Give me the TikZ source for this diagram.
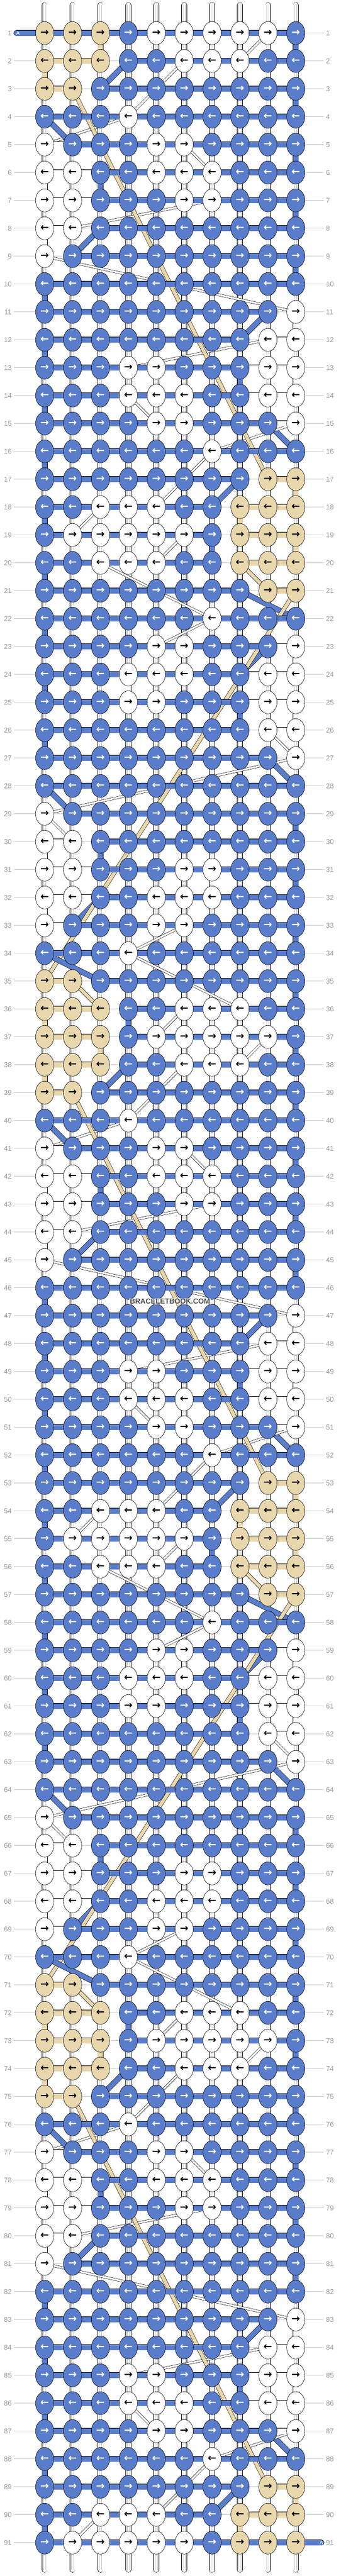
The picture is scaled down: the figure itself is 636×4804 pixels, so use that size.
\documentclass[tikz,border=0pt]{standalone}
\usepackage{fontspec}
\setmainfont{Liberation Sans}
\newfontfamily\arrowfont{DejaVu Sans}
\usepackage{xstring}
\usetikzlibrary{shapes.geometric}

\definecolor{knotblue}{HTML}{5A7DCB}
\definecolor{knottan}{HTML}{E8D6AC}
\definecolor{numgray}{HTML}{999999}
\definecolor{linegray}{HTML}{C8C8C8}
\definecolor{markgray}{HTML}{4A4A4A}

\pgfdeclarelayer{guide}
\pgfdeclarelayer{strings}
\pgfdeclarelayer{diag}
\pgfdeclarelayer{barW}
\pgfdeclarelayer{barT}
\pgfdeclarelayer{barB}
\pgfsetlayers{guide,strings,diag,barW,barT,barB,main}

\tikzstyle{knot}=[ellipse, draw=black, line width=0.6pt, minimum width=34pt, minimum height=43pt, inner sep=0pt, font=\arrowfont\bfseries\fontsize{19}{19}\selectfont]
\tikzstyle{thread}=[draw=black, line width=0.6pt]
\tikzstyle{basestring}=[draw=black, line width=0.6pt, double=white, double distance=9pt, line cap=round]
\tikzstyle{stringcore}=[draw=linegray, line width=0.6pt, double=white, double distance=3.4pt]
\tikzstyle{rowline}=[draw=linegray, line width=0.8pt]
\tikzstyle{rownum}=[text=numgray, font=\fontsize{13}{13}\selectfont, inner sep=4pt]

% knot letters: B blue (thread A), W white, T tan
\def\fillB{knotblue}\def\fillW{white}\def\fillT{knottan}
\def\textB{white}\def\textW{black}\def\textT{black}
\def\diagB{9}\def\diagW{3.5}\def\diagT{6.5}

\def\patlist{1/TTTBWWWWWB,2/TTTBBWWWBB,3/TTBBBBBBBB,4/BBBWBBBBBB,5/WBBBWWBBBB,6/WWBBWWWBBB,7/WWBBBWWBBB,8/WWBBBBBBBB,9/WBBBBBBBBB,10/BBBBBBBBBB,11/BBBBBBBBBW,12/BBBBBBBBWW,13/BBBWWBBBWW,14/BBBWWWBBWW,15/BBBBWWBBBW,16/BBBBBBWBBB,17/BBBBBBBBTT,18/BBWWWBBTTT,19/BWWWWWBTTT,20/BBWWWBBTTT,21/BBBBBBBBTT,22/BBBBBBWBBB,23/BBBBWWBBBW,24/BBBWWWBBWW,25/BBBWWBBBWW,26/BBBBBBBBWW,27/BBBBBBBBBW,28/BBBBBBBBBB,29/WBBBBBBBBB,30/WWBBBBBBBB,31/WWBBBWWBBB,32/WWBBWWWBBB,33/WBBBWWBBBB,34/BBBWBBBBBB,35/TTBBBBBBBB,36/TTTBBWWWBB,37/TTTBWWWWWB,38/TTTBBWWWBB,39/TTBBBBBBBB,40/BBBWBBBBBB,41/WBBBWWBBBB,42/WWBBWWWBBB,43/WWBBBWWBBB,44/WWBBBBBBBB,45/WBBBBBBBBB,46/BBBBBBBBBB,47/BBBBBBBBBW,48/BBBBBBBBWW,49/BBBWWBBBWW,50/BBBWWWBBWW,51/BBBBWWBBBW,52/BBBBBBWBBB,53/BBBBBBBBTT,54/BBWWWBBTTT,55/BWWWWWBTTT,56/BBWWWBBTTT,57/BBBBBBBBTT,58/BBBBBBWBBB,59/BBBBWWBBBW,60/BBBWWWBBWW,61/BBBWWBBBWW,62/BBBBBBBBWW,63/BBBBBBBBBW,64/BBBBBBBBBB,65/WBBBBBBBBB,66/WWBBBBBBBB,67/WWBBBWWBBB,68/WWBBWWWBBB,69/WBBBWWBBBB,70/BBBWBBBBBB,71/TTBBBBBBBB,72/TTTBBWWWBB,73/TTTBWWWWWB,74/TTTBBWWWBB,75/TTBBBBBBBB,76/BBBWBBBBBB,77/WBBBWWBBBB,78/WWBBWWWBBB,79/WWBBBWWBBB,80/WWBBBBBBBB,81/WBBBBBBBBB,82/BBBBBBBBBB,83/BBBBBBBBBW,84/BBBBBBBBWW,85/BBBWWBBBWW,86/BBBWWWBBWW,87/BBBBWWBBBW,88/BBBBBBWBBB,89/BBBBBBBBTT,90/BBWWWBBTTT,91/BWWWWWBTTT}

\begin{document}
\begin{tikzpicture}[x=1pt, y=-1pt]
  \useasboundingbox (0,0) rectangle (636,4804);

  % knots and row numbers
  \foreach \row/\p in \patlist {
    \pgfmathsetmacro\ky{61.7+52*(\row-1)}
    \node[rownum, anchor=east] (ln-\row) at (26,\ky) {\row};
    \node[rownum, anchor=west] (rn-\row) at (604,\ky) {\row};
    \foreach \col in {1,...,10} {
      \StrChar{\p}{\col}[\k]
      \edef\kfill{\csname fill\k\endcsname}
      \edef\ktext{\csname text\k\endcsname}
      \pgfmathsetmacro\kx{83.3+52.04*(\col-1)}
      \node[knot, fill=\kfill, text=\ktext] (k-\row-\col) at (\kx,\ky) {\ifodd\row →\else ←\fi};
    }
  }

  \begin{pgfonlayer}{guide}
    \fill[white] (0,0) rectangle (636,4804);
    \foreach \row in {1,...,91}
      \draw[rowline] (ln-\row.east) -- (rn-\row.west);
  \end{pgfonlayer}

  % base strings
  \begin{pgfonlayer}{strings}
    \foreach \col in {1,...,10} {
      \pgfmathsetmacro\kx{83.3+52.04*(\col-1)}
      \coordinate (top-\col) at (\kx,9.5);
      \coordinate (bot-\col) at (\kx,4792.5);
      \draw[basestring] (top-\col) -- (bot-\col);
      \draw[stringcore] (top-\col) -- (bot-\col);
    }
  \end{pgfonlayer}

  % thread A ends
  \coordinate (a-start) at (31,61.7);
  \coordinate (a-end) at (599,4741.7);
  \node[text=white, font=\fontsize{10}{10}\selectfont, anchor=west, inner sep=0pt] (a-first) at (30,62) {A};
  \node[text=white, font=\fontsize{10}{10}\selectfont, anchor=east, inner sep=0pt] (a-last) at (603,4742) {A};

  % threads: follow each colour from knot to knot, collect the draws
  \gdef\lastrB{1}\gdef\lastcB{1}
  \gdef\lastrW{0}\gdef\lastcW{0}
  \gdef\lastrT{0}\gdef\lastcT{0}
  \gdef\barsB{}\gdef\barsW{}\gdef\barsT{}\gdef\diags{}
  \foreach \row/\p in \patlist {
    \foreach \i in {1,...,10} {
      \ifodd\row \edef\col{\i}\else \pgfmathtruncatemacro\col{11-\i}\fi
      \StrChar{\p}{\col}[\k]
      \edef\lr{\csname lastr\k\endcsname}
      \edef\lc{\csname lastc\k\endcsname}
      \edef\kfill{\csname fill\k\endcsname}
      \edef\kdiag{\csname diag\k\endcsname}
      \ifnum\lr>0
        \pgfmathtruncatemacro\nextr{\lr+1}
        \def\how{d}
        \ifnum\lr=\row \def\how{b}\fi
        \ifnum\lc=\col \ifnum\nextr=\row \def\how{b}\fi\fi
        \if b\how
          \if B\k \xdef\barsB{\unexpanded\expandafter{\barsB}(k-\lr-\lc.center) -- (k-\row-\col.center) }\fi
          \if W\k \xdef\barsW{\unexpanded\expandafter{\barsW}(k-\lr-\lc.center) -- (k-\row-\col.center) }\fi
          \if T\k \xdef\barsT{\unexpanded\expandafter{\barsT}(k-\lr-\lc.center) -- (k-\row-\col.center) }\fi
        \else
          \xdef\diags{\unexpanded\expandafter{\diags}\noexpand\draw[thread, double=\kfill, double distance=\kdiag pt] (k-\lr-\lc.center) -- (k-\row-\col.center);}
        \fi
      \fi
      \expandafter\xdef\csname lastr\k\endcsname{\row}
      \expandafter\xdef\csname lastc\k\endcsname{\col}
    }
  }

  \begin{pgfonlayer}{diag}
    \diags
  \end{pgfonlayer}
  \begin{pgfonlayer}{barW}
    \draw[thread, double=white, double distance=10pt] \barsW;
  \end{pgfonlayer}
  \begin{pgfonlayer}{barT}
    \draw[thread, double=knottan, double distance=10pt] \barsT;
  \end{pgfonlayer}
  \begin{pgfonlayer}{barB}
    \draw[thread, double=knotblue, double distance=10pt] \barsB;
    \draw[thread, double=knotblue, double distance=10pt, line cap=round] (a-start) -- (k-1-1.center);
    \draw[thread, double=knotblue, double distance=10pt, line cap=round] (k-91-7.center) -- (a-end);
  \end{pgfonlayer}

  \node[fill=white, fill opacity=0.55, text opacity=1, text=markgray, font=\bfseries\fontsize{13.5}{13.5}\selectfont, inner sep=1pt] (mark) at (317,2427) {BRACELETBOOK.COM};
\end{tikzpicture}
\end{document}
